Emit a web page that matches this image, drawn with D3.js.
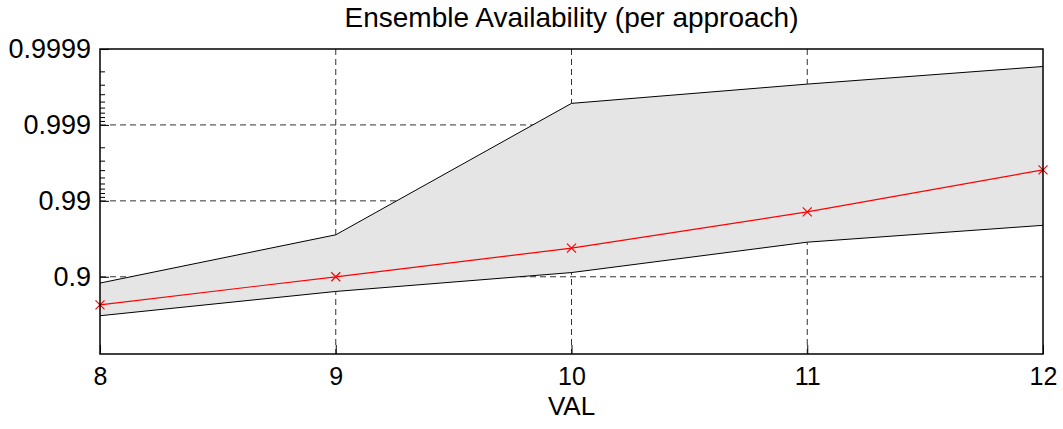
<!DOCTYPE html>
<html>
<head>
<meta charset="utf-8">
<script src="https://cdn.jsdelivr.net/npm/d3@7"></script>
<style>
  body { margin: 0; background: #fff; }
  text { font-family: "Liberation Sans", Arial, sans-serif; fill: #000; }
</style>
</head>
<body>
<svg id="chart" width="1063" height="429"></svg>
<script>
// data (availability)
const vals = [8, 9, 10, 11, 12];
const meanAvail = [0.766, 0.900, 0.958, 0.986, 0.9961];
const upperAvail = [0.879, 0.972, 0.99948, 0.99971, 0.99983];
const lowerAvail = [0.674, 0.844, 0.912, 0.965, 0.979];
const yTickValues = [0.9999, 0.999, 0.99, 0.9];
const yTickLabels = ['0.9999', '0.999', '0.99', '0.9'];
const xTickValues = [8, 9, 10, 11, 12];

const margin = {top: 49, right: 20, bottom: 75, left: 100};
const W = 1063, H = 429;
const width = W - margin.left - margin.right;
const height = H - margin.top - margin.bottom;

const svg = d3.select('#chart');
const g = svg.append('g').attr('transform', 'translate(' + margin.left + ',' + margin.top + ')');

const x = d3.scaleLinear().domain([8, 12]).range([0, width]);
// unavailability on a log scale, smallest at the top
const u = d3.scaleLog().domain([1e-4, 1.04]).range([0, height]);
const y = (a) => u(1 - a);

// grid
const dash = '6,4';
g.append('g').selectAll('line.gx').data(xTickValues.slice(1, -1)).enter()
    .append('line')
    .attr('x1', d => x(d)).attr('x2', d => x(d))
    .attr('y1', 0).attr('y2', height)
    .attr('stroke', '#333').attr('stroke-width', 1).attr('stroke-dasharray', dash);
g.append('g').selectAll('line.gy').data(yTickValues.slice(1)).enter()
    .append('line')
    .attr('x1', 0).attr('x2', width)
    .attr('y1', d => y(d)).attr('y2', d => y(d))
    .attr('stroke', '#333').attr('stroke-width', 1).attr('stroke-dasharray', dash);

// band
const band = vals.map((v, i) => ({v: v, lo: lowerAvail[i], hi: upperAvail[i], m: meanAvail[i]}));
g.append('path').datum(band)
    .attr('d', d3.area().x(d => x(d.v)).y0(d => y(d.lo)).y1(d => y(d.hi)))
    .attr('fill', '#e5e5e5');
g.append('path').datum(band)
    .attr('d', d3.line().x(d => x(d.v)).y(d => y(d.hi)))
    .attr('fill', 'none').attr('stroke', '#000').attr('stroke-width', 1);
g.append('path').datum(band)
    .attr('d', d3.line().x(d => x(d.v)).y(d => y(d.lo)))
    .attr('fill', 'none').attr('stroke', '#000').attr('stroke-width', 1);

// mean line
g.append('path').datum(band)
    .attr('d', d3.line().x(d => x(d.v)).y(d => y(d.m)))
    .attr('fill', 'none').attr('stroke', '#ff0000').attr('stroke-width', 1.2);
const s = 4.5;
g.append('g').selectAll('path.mk').data(band).enter()
    .append('path')
    .attr('d', d => {
        const cx = x(d.v), cy = y(d.m);
        return 'M' + (cx - s) + ',' + (cy - s) + 'L' + (cx + s) + ',' + (cy + s) +
               'M' + (cx - s) + ',' + (cy + s) + 'L' + (cx + s) + ',' + (cy - s);
    })
    .attr('stroke', '#ff0000').attr('stroke-width', 1.2).attr('fill', 'none');

// box
g.append('rect').attr('x', 0).attr('y', 0).attr('width', width).attr('height', height)
    .attr('fill', 'none').attr('stroke', '#000').attr('stroke-width', 1.5);

// y axis
const yAxis = d3.axisLeft(u)
    .tickValues(yTickValues.map(a => 1 - a))
    .tickFormat((d, i) => yTickLabels[i])
    .tickSizeInner(-9).tickSizeOuter(0).tickPadding(9);
const ya = g.append('g').call(yAxis);
ya.select('.domain').remove();
ya.selectAll('.tick line').attr('stroke', '#000').attr('stroke-width', 1);
ya.selectAll('.tick text').attr('font-size', 27).attr('font-family', '"Liberation Sans", Arial, sans-serif')
    .attr('fill', '#000');

// minor log ticks between 0.99 and 0.9999
const minor = u.ticks().filter(t => t < 1e-2 && Math.abs(Math.log10(t) - Math.round(Math.log10(t))) > 1e-6);
g.append('g').selectAll('line.mn').data(minor).enter()
    .append('line')
    .attr('x1', 0).attr('x2', 5)
    .attr('y1', d => u(d)).attr('y2', d => u(d))
    .attr('stroke', '#000').attr('stroke-width', 1);

// x axis
const xAxis = d3.axisBottom(x).tickValues(xTickValues).tickFormat(d3.format('d'))
    .tickSizeInner(-9).tickSizeOuter(0).tickPadding(13);
const xa = g.append('g').attr('transform', 'translate(0,' + height + ')').call(xAxis);
xa.select('.domain').remove();
xa.selectAll('.tick line').attr('stroke', '#000').attr('stroke-width', 1);
xa.selectAll('.tick text').attr('font-size', 25).attr('font-family', '"Liberation Sans", Arial, sans-serif')
    .attr('fill', '#000');

// labels
svg.append('text').attr('x', margin.left + width / 2).attr('y', 27)
    .attr('text-anchor', 'middle').attr('font-size', 28)
    .text('Ensemble Availability (per approach)');
svg.append('text').attr('x', margin.left + width / 2).attr('y', 415)
    .attr('text-anchor', 'middle').attr('font-size', 26)
    .text('VAL');
</script>
</body>
</html>
